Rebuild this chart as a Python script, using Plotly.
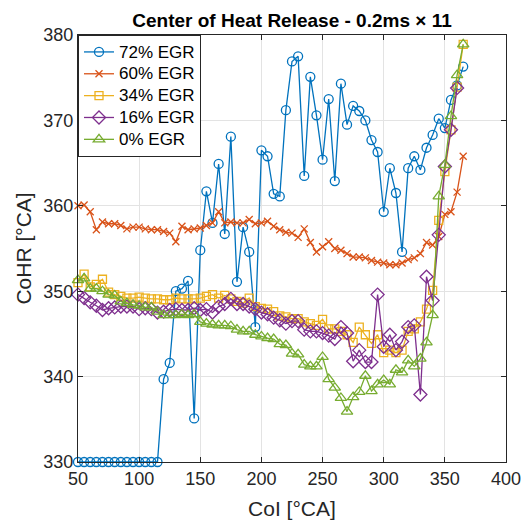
import plotly.graph_objects as go

# Crank angle of injection (CoI), 50..365 deg CA in 5 deg steps
coi = list(range(50, 370, 5))

# Center of heat release (CoHR) for each EGR level
cohr_72 = [330.0] * 14 + [
    339.7, 341.6, 350.0, 350.3, 351.2, 335.1, 354.8, 361.7, 358.0, 364.9,
    356.7, 368.1, 351.1, 357.5, 354.6, 345.8, 366.5, 365.8, 361.4, 361.1,
    371.2, 376.9, 377.5, 363.5, 375.1, 370.6, 365.4, 372.5, 362.9, 374.3,
    369.5, 371.7, 371.1, 370.0, 367.7, 366.3, 359.3, 364.4, 361.5, 354.6,
    364.4, 365.8, 364.2, 366.8, 368.3, 370.2, 369.1, 372.4, 374.1, 376.3,
]
cohr_60 = [
    360.0, 360.1, 359.3, 357.2, 358.1, 357.9, 357.9, 357.7, 357.3, 357.5,
    357.5, 357.3, 357.2, 357.2, 357.0, 356.8, 355.8, 357.6, 357.2, 357.3,
    357.4, 357.7, 358.0, 359.3, 358.0, 358.1, 358.0, 358.0, 358.4, 357.9,
    358.0, 358.2, 357.6, 357.2, 356.9, 356.8, 356.3, 357.3, 355.7, 354.6,
    355.2, 355.8, 355.0, 354.8, 354.4, 354.0, 354.0, 353.9, 353.6, 353.4,
    353.3, 353.1, 353.1, 353.3, 353.7, 353.9, 354.4, 355.7, 355.4, 356.4,
    359.0, 359.3, 361.6, 365.8,
]
cohr_34 = [
    351.0, 352.0, 350.5, 350.8, 351.4, 349.9, 349.6, 349.4, 349.2, 349.2,
    349.3, 349.2, 349.1, 349.1, 349.0, 349.0, 349.2, 349.1, 349.1, 349.1,
    349.2, 349.4, 349.6, 349.2, 349.5, 349.1, 348.8, 348.6, 349.2, 348.2,
    348.0, 347.9, 347.6, 347.1, 347.0, 346.8, 346.8, 346.4, 346.2, 346.0,
    346.7, 345.6, 345.6, 345.3, 344.9, 344.0, 345.8, 344.9, 343.9, 344.9,
    342.8, 343.1, 342.8, 343.1, 345.3, 345.6, 346.4, 347.9, 350.1, 358.3,
    364.0, 368.9, 373.9, 378.9,
]
cohr_16 = [
    349.6, 349.2, 348.7, 348.3, 347.8, 348.0, 348.1, 348.2, 348.2, 348.2,
    347.9, 348.0, 347.9, 347.5, 347.6, 347.8, 347.9, 347.8, 347.8, 348.0,
    347.8, 347.9, 347.5, 348.2, 348.5, 349.1, 348.5, 348.5, 348.2, 347.9,
    347.5, 347.3, 346.9, 346.6, 346.2, 346.5, 346.5, 345.5, 345.3, 345.3,
    345.1, 344.8, 344.4, 345.8, 345.1, 341.8, 343.1, 341.7, 341.7, 349.6,
    343.5, 344.9, 343.1, 344.1, 345.8, 346.0, 337.9, 351.7, 348.9, 356.6,
    364.6, 368.9, 373.8,
]
cohr_0 = [
    351.3, 351.5, 350.3, 350.3, 350.0, 349.6, 349.5, 348.8, 348.6, 348.4,
    348.3, 348.1, 348.1, 347.6, 347.2, 347.2, 347.2, 347.3, 347.2, 347.3,
    346.4, 346.2, 346.1, 346.0, 346.0, 345.9, 345.5, 345.3, 345.3, 344.9,
    344.7, 344.5, 344.4, 343.8, 343.7, 342.7, 342.6, 341.4, 341.2, 341.2,
    342.3, 339.7, 338.7, 337.5, 335.9, 337.6, 338.2, 340.1, 338.3, 339.1,
    339.6, 339.1, 340.8, 340.5, 341.9, 341.2, 342.1, 344.0, 347.2, 361.1,
    364.8, 370.5, 375.3, 378.9,
]

x_ticks = [50, 100, 150, 200, 250, 300, 350, 400]
y_ticks = [330, 340, 350, 360, 370, 380]

FONT = "Liberation Sans, Arial, Helvetica, sans-serif"
AX = "#262626"

series = [
    ("72% EGR", cohr_72, "#0072BD", "circle-open", 9),
    ("60% EGR", cohr_60, "#D95319", "x-thin-open", 7),
    ("34% EGR", cohr_34, "#EDB120", "square-open", 8),
    ("16% EGR", cohr_16, "#7E2F8E", "diamond-open", 10),
    ("0% EGR", cohr_0, "#77AC30", "triangle-up-open", 10),
]

fig = go.Figure()
for name, vals, color, symbol, size in series:
    fig.add_trace(go.Scatter(
        x=coi[:len(vals)], y=vals,
        name=f'<span style="font-size:17px">{name}</span>',
        mode="lines+markers",
        line=dict(color=color, width=1.3),
        marker=dict(symbol=symbol, size=size, color=color,
                    line=dict(color=color, width=1.3)),
        cliponaxis=False,
    ))

axis_common = dict(
    showline=True, linecolor=AX, linewidth=1, mirror="ticks",
    ticks="inside", ticklen=5, tickwidth=1, tickcolor=AX,
    showgrid=True, gridcolor="#e3e3e3", gridwidth=1, zeroline=False,
    tickfont=dict(family=FONT, size=18, color=AX), automargin=False,
)

fig.update_layout(
    width=522, height=523,
    margin=dict(l=78, r=16, t=35, b=61, autoexpand=False),
    paper_bgcolor="white", plot_bgcolor="white",
    title=dict(text="<b>Center of Heat Release - 0.2ms × 11</b>",
               x=0.5, xref="paper", xanchor="center",
               y=1 - 20 / 523, yref="container", yanchor="middle",
               font=dict(family=FONT, size=19, color="black")),
    xaxis=dict(range=[50, 400], tickvals=x_ticks,
               title=dict(text="CoI [°CA]", standoff=13,
                          font=dict(family=FONT, size=21, color=AX)),
               **axis_common),
    yaxis=dict(range=[330, 380], tickvals=y_ticks,
               title=dict(text="CoHR [°CA]", standoff=6,
                          font=dict(family=FONT, size=21, color=AX)),
               **axis_common),
    legend=dict(x=0, y=1, xanchor="left", yanchor="top",
                bgcolor="white", bordercolor=AX, borderwidth=1,
                font=dict(family=FONT, size=14.5, color="black"),
                tracegroupgap=0, itemwidth=30),
    showlegend=True,
)

fig.write_html("out.html")
